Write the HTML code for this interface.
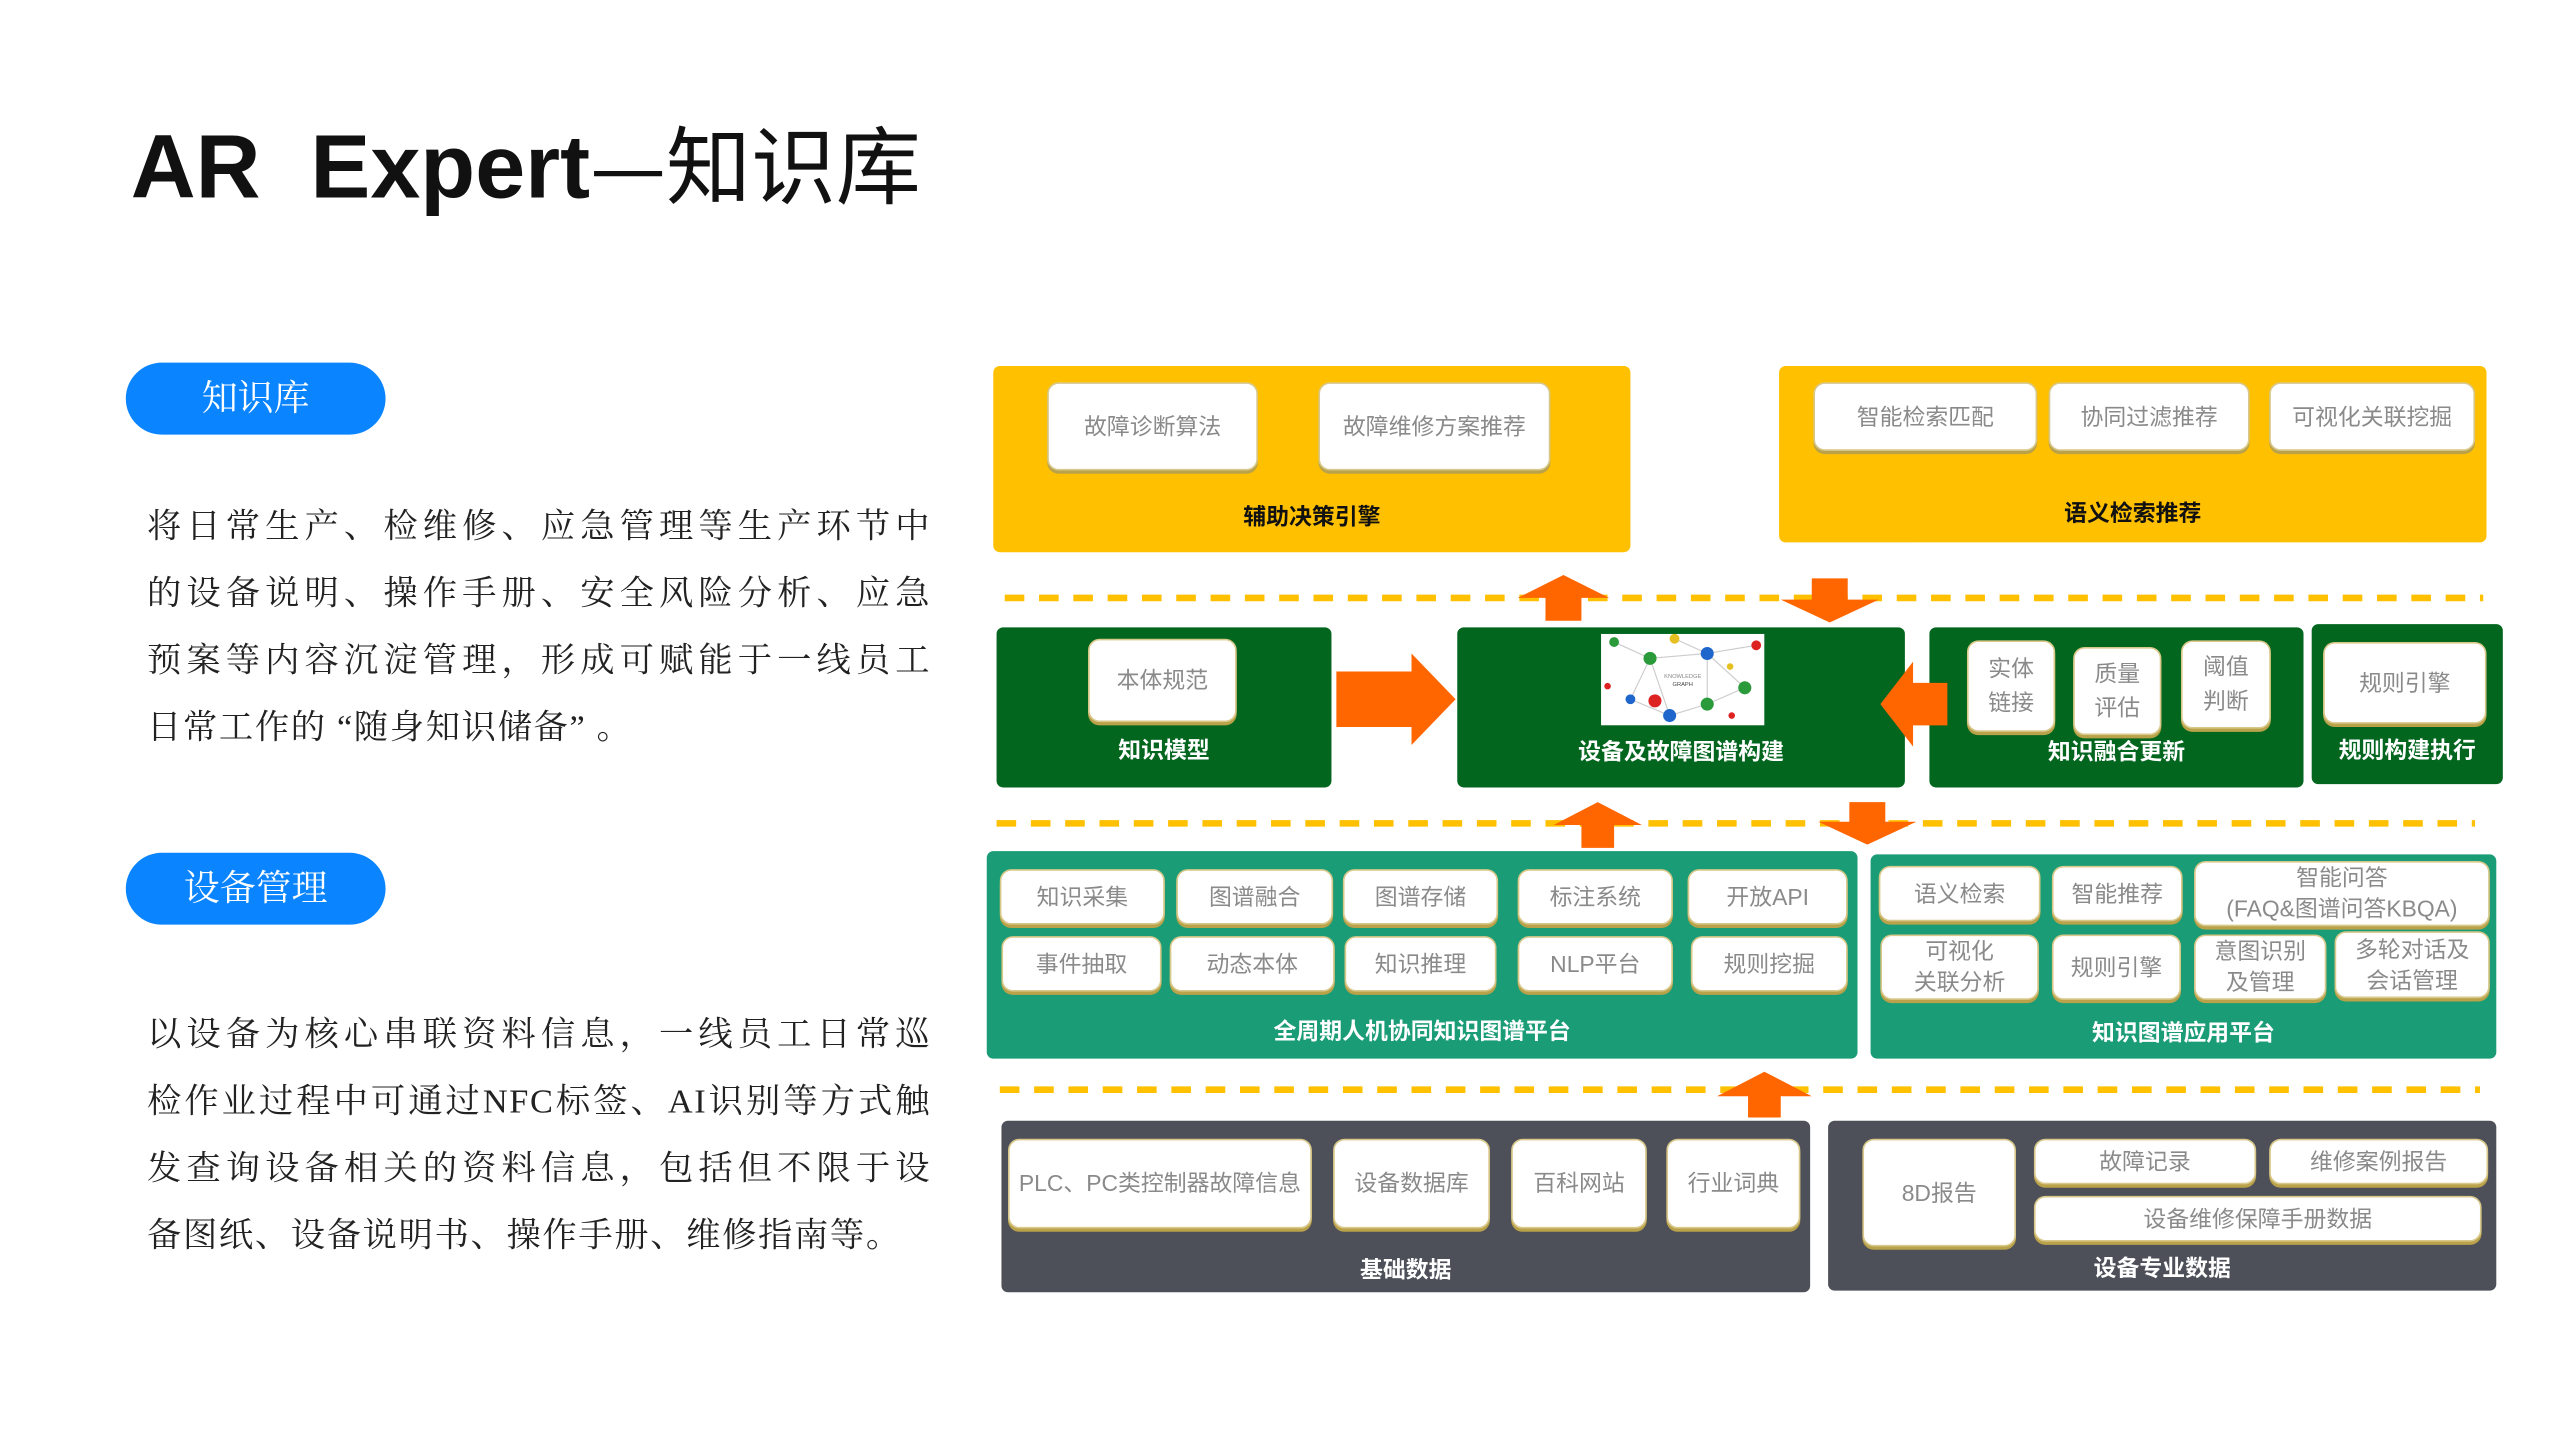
<!DOCTYPE html>
<html><head><meta charset="utf-8"><style>
html,body{margin:0;padding:0;background:#fff;}
body{width:2560px;height:1440px;overflow:hidden;position:relative;}
#s{position:absolute;left:0;top:0;width:1567px;height:882px;transform:scale(1.6337);transform-origin:0 0;font-family:"Liberation Sans","Noto Sans CJK SC",sans-serif;}
.a{position:absolute;box-sizing:border-box;}
.title{left:80px;top:66px;font-size:55px;font-weight:bold;color:#111;white-space:pre;line-height:66px;}
.title span{font-weight:normal;font-family:"Noto Sans CJK SC",sans-serif;font-size:52px;}
.pill{background:#0a84ff;color:#fff;border-radius:22px;font-family:"Liberation Serif","Noto Serif CJK SC",serif;font-size:22px;text-align:center;line-height:44px;width:159px;height:44px;left:77px;}
.para{left:90px;width:480px;font-family:"Liberation Serif","Noto Serif CJK SC",serif;font-size:21px;color:#222;line-height:41px;text-align:justify;text-align-last:justify;letter-spacing:1px;}
.para span{display:block;}
.para span.l{text-align-last:left;}
.box{border-radius:4px;}
.y{background:#ffc000;}
.g{background:#03661f;}
.tl{background:#1a9c76;}
.gr{background:#4d5059;}
.w{background:#fff;border-radius:7px;border:1px solid #d8c88a;box-shadow:0 2px 0 #b9a24a;color:#8a8a8a;font-size:14px;display:flex;align-items:center;justify-content:center;text-align:center;line-height:21px;}
.lb{font-size:14px;font-weight:bold;text-align:center;line-height:18px;}
.lk{color:#111;}
.lw{color:#fff;}
</style></head><body><div id="s">
<div class="a title">AR  Expert<span>—知识库</span></div>
<div class="a pill" style="top:222px">知识库</div>
<div class="a para" style="top:302px"><span>将日常生产、检维修、应急管理等生产环节中</span><span>的设备说明、操作手册、安全风险分析、应急</span><span>预案等内容沉淀管理，形成可赋能于一线员工</span><span class="l">日常工作的 “随身知识储备” 。</span></div>
<div class="a pill" style="top:522px">设备管理</div>
<div class="a para" style="top:613px"><span>以设备为核心串联资料信息，一线员工日常巡</span><span>检作业过程中可通过NFC标签、AI识别等方式触</span><span>发查询设备相关的资料信息，包括但不限于设</span><span class="l">备图纸、设备说明书、操作手册、维修指南等。</span></div>

<div class="a box y" style="left:608px;top:224px;width:390px;height:114px"></div>
<div class="a w" style="left:641px;top:234px;width:129px;height:54px">故障诊断算法</div>
<div class="a w" style="left:807px;top:234px;width:142px;height:54px">故障维修方案推荐</div>
<div class="a lb lk" style="left:608px;top:307px;width:390px">辅助决策引擎</div>
<div class="a box y" style="left:1089px;top:224px;width:433px;height:108px"></div>
<div class="a w" style="left:1110px;top:234px;width:137px;height:42px">智能检索匹配</div>
<div class="a w" style="left:1254px;top:234px;width:123px;height:42px">协同过滤推荐</div>
<div class="a w" style="left:1389px;top:234px;width:126px;height:42px">可视化关联挖掘</div>
<div class="a lb lk" style="left:1089px;top:305px;width:433px">语义检索推荐</div>

<div class="a box g" style="left:610px;top:384px;width:205px;height:98px"></div>
<div class="a w" style="left:666px;top:391px;width:91px;height:51px">本体规范</div>
<div class="a lb lw" style="left:610px;top:450px;width:205px">知识模型</div>
<div class="a box g" style="left:892px;top:384px;width:274px;height:98px"></div>
<svg class="a" style="left:980px;top:388px" width="100" height="56" viewBox="0 0 100 56">
<rect width="100" height="56" fill="#fff"/>
<g stroke="#ccc" stroke-width="0.7"><line x1="8" y1="5" x2="30" y2="15"/><line x1="30" y1="15" x2="65" y2="12"/><line x1="65" y1="12" x2="88" y2="33"/><line x1="30" y1="15" x2="18" y2="40"/><line x1="18" y1="40" x2="42" y2="50"/><line x1="42" y1="50" x2="65" y2="43"/><line x1="65" y1="43" x2="88" y2="33"/><line x1="30" y1="15" x2="42" y2="50"/><line x1="65" y1="12" x2="65" y2="43"/><line x1="65" y1="12" x2="95" y2="7"/><line x1="45" y1="3" x2="65" y2="12"/></g>
<circle cx="8" cy="5" r="3" fill="#2a9a3a"/><circle cx="45" cy="3" r="3" fill="#e5c020"/><circle cx="65" cy="12" r="4" fill="#1f66cc"/><circle cx="30" cy="15" r="4" fill="#2a9a3a"/><circle cx="95" cy="7" r="3" fill="#d22"/><circle cx="88" cy="33" r="4" fill="#2a9a3a"/><circle cx="18" cy="40" r="3" fill="#1f66cc"/><circle cx="42" cy="50" r="4" fill="#1f66cc"/><circle cx="65" cy="43" r="4" fill="#2a9a3a"/><circle cx="33" cy="41" r="4" fill="#d22"/><circle cx="4" cy="32" r="2" fill="#d22"/><circle cx="80" cy="50" r="2" fill="#d22"/><circle cx="79" cy="20" r="2" fill="#e5c020"/>
<text x="50" y="27" font-size="3.5" text-anchor="middle" fill="#888" font-family="Liberation Sans">KNOWLEDGE</text><text x="50" y="32" font-size="3.5" text-anchor="middle" fill="#444" font-family="Liberation Sans">GRAPH</text>
</svg>
<div class="a lb lw" style="left:892px;top:451px;width:274px">设备及故障图谱构建</div>
<div class="a box g" style="left:1181px;top:384px;width:229px;height:98px"></div>
<div class="a w" style="left:1204px;top:392px;width:54px;height:56px">实体<br>链接</div>
<div class="a w" style="left:1269px;top:396px;width:54px;height:54px">质量<br>评估</div>
<div class="a w" style="left:1335px;top:392px;width:55px;height:54px">阈值<br>判断</div>
<div class="a lb lw" style="left:1181px;top:451px;width:229px">知识融合更新</div>
<div class="a box g" style="left:1415px;top:382px;width:117px;height:98px"></div>
<div class="a w" style="left:1422px;top:393px;width:100px;height:50px">规则引擎</div>
<div class="a lb lw" style="left:1415px;top:450px;width:117px">规则构建执行</div>

<div class="a box tl" style="left:604px;top:521px;width:533px;height:127px"></div>
<div class="a w" style="left:612px;top:532px;width:101px;height:34px">知识采集</div>
<div class="a w" style="left:720px;top:532px;width:96px;height:34px">图谱融合</div>
<div class="a w" style="left:822px;top:532px;width:95px;height:34px">图谱存储</div>
<div class="a w" style="left:929px;top:532px;width:95px;height:34px">标注系统</div>
<div class="a w" style="left:1033px;top:532px;width:98px;height:34px">开放API</div>
<div class="a w" style="left:613px;top:573px;width:98px;height:34px">事件抽取</div>
<div class="a w" style="left:716px;top:573px;width:101px;height:34px">动态本体</div>
<div class="a w" style="left:823px;top:573px;width:93px;height:34px">知识推理</div>
<div class="a w" style="left:929px;top:573px;width:95px;height:34px">NLP平台</div>
<div class="a w" style="left:1035px;top:573px;width:96px;height:34px">规则挖掘</div>
<div class="a lb lw" style="left:604px;top:622px;width:533px">全周期人机协同知识图谱平台</div>
<div class="a box tl" style="left:1145px;top:523px;width:383px;height:125px"></div>
<div class="a w" style="left:1150px;top:530px;width:99px;height:34px">语义检索</div>
<div class="a w" style="left:1256px;top:530px;width:80px;height:34px">智能推荐</div>
<div class="a w" style="left:1343px;top:527px;width:181px;height:40px;line-height:19px">智能问答<br>(FAQ&amp;图谱问答KBQA)</div>
<div class="a w" style="left:1151px;top:572px;width:97px;height:40px;line-height:19px">可视化<br>关联分析</div>
<div class="a w" style="left:1256px;top:572px;width:79px;height:40px">规则引擎</div>
<div class="a w" style="left:1343px;top:572px;width:81px;height:40px;line-height:19px">意图识别<br>及管理</div>
<div class="a w" style="left:1429px;top:570px;width:95px;height:41px;line-height:19px">多轮对话及<br>会话管理</div>
<div class="a lb lw" style="left:1145px;top:623px;width:383px">知识图谱应用平台</div>

<div class="a box gr" style="left:613px;top:686px;width:495px;height:105px"></div>
<div class="a w" style="left:617px;top:697px;width:186px;height:55px">PLC、PC类控制器故障信息</div>
<div class="a w" style="left:816px;top:697px;width:96px;height:55px">设备数据库</div>
<div class="a w" style="left:925px;top:697px;width:83px;height:55px">百科网站</div>
<div class="a w" style="left:1020px;top:697px;width:82px;height:55px">行业词典</div>
<div class="a lb lw" style="left:613px;top:768px;width:495px">基础数据</div>
<div class="a box gr" style="left:1119px;top:686px;width:409px;height:104px"></div>
<div class="a w" style="left:1140px;top:697px;width:94px;height:66px">8D报告</div>
<div class="a w" style="left:1245px;top:697px;width:136px;height:28px">故障记录</div>
<div class="a w" style="left:1389px;top:697px;width:134px;height:28px">维修案例报告</div>
<div class="a w" style="left:1245px;top:732px;width:274px;height:28px">设备维修保障手册数据</div>
<div class="a lb lw" style="left:1119px;top:767px;width:409px">设备专业数据</div>

<svg class="a" style="left:0;top:0" width="1567" height="882" viewBox="0 0 1567 882">
<g stroke="#ffc000" stroke-width="4" stroke-dasharray="12,9">
<line x1="615" y1="366" x2="1520" y2="366"/>
<line x1="610" y1="504" x2="1515" y2="504"/>
<line x1="612" y1="667" x2="1518" y2="667"/>
</g>
<g fill="#ff6600">
<polygon points="946,380 968,380 968,366 985,366 957,352 929,366 946,366"/>
<polygon points="1109,354 1131,354 1131,367 1150,367 1120,381 1090,367 1109,367"/>
<polygon points="968,519 988,519 988,505 1005,505 978,491 951,505 968,505"/>
<polygon points="1132,491 1154,491 1154,503 1173,503 1143,517 1113,503 1132,503"/>
<polygon points="1070,684 1090,684 1090,671 1109,671 1080,656 1051,671 1070,671"/>
<polygon points="818,411 864,411 864,400 891,428 864,456 864,445 818,445"/>
<polygon points="1192,418 1171,418 1171,405 1151,431 1171,457 1171,444 1192,444"/>
</g>
</svg>
</div></body></html>
